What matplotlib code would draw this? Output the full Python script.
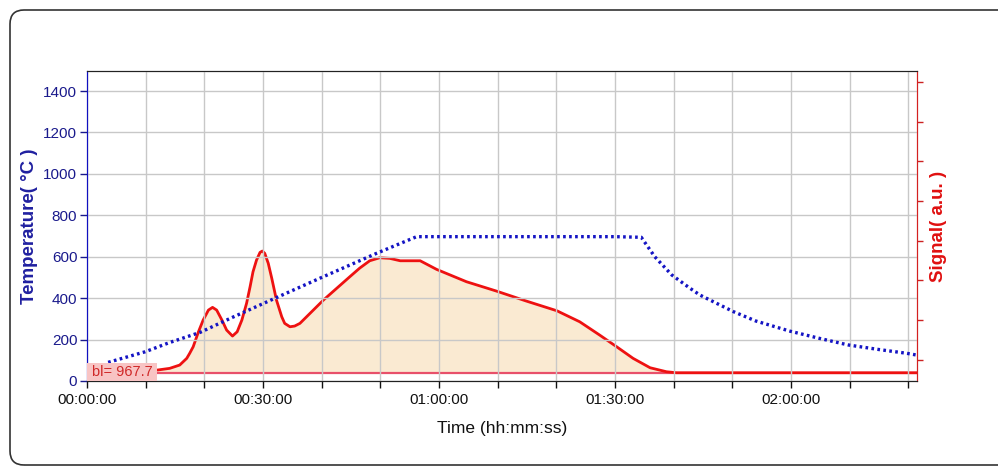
import matplotlib.pyplot as plt
from matplotlib.patches import FancyBboxPatch, Rectangle
from matplotlib.transforms import IdentityTransform

plt.rcParams['font.family'] = ['Liberation Sans', 'DejaVu Sans']

# temperature programme (time in minutes, deg C)
temp_t = [3.6, 9.9, 14.0, 19.3, 25.0, 32.0, 40.0, 49.4, 56.2, 60.0, 70.0, 80.0, 90.0, 94.5,
          96.8, 99.7, 102.8, 104.5, 110.2, 114.0, 119.8, 125.0, 129.8, 135.0, 139.7, 141.5]
temp_v = [90, 141, 185, 235, 310, 399, 500, 617, 697, 697, 697, 697, 697, 694,
          600, 512, 448, 415, 335, 290, 241, 205, 174, 152, 134, 125]

# signal (a.u.)
sig_t = [0.0, 8.0, 12.0, 14.1, 15.8, 17.0, 17.5, 18.1, 19.0, 19.8, 20.7, 21.4, 22.1, 23.0,
         23.8, 24.8, 25.6, 26.4, 27.2, 27.8, 28.3, 28.9, 29.5, 29.9, 30.3, 30.9, 31.5,
         32.3, 33.2, 33.7, 34.6, 35.4, 36.3, 40.3, 44.8, 46.5, 48.2, 49.9, 51.6, 53.4,
         56.8, 59.6, 64.7, 69.8, 74.9, 80.1, 84.0, 87.4, 90.3, 93.1, 96.0, 98.8, 100.5,
         110.0, 141.5]
sig_v = [1040, 1040, 1036, 1079, 1162, 1331, 1457, 1623, 2001, 2296, 2548, 2616, 2548, 2296,
         2044, 1893, 2001, 2296, 2717, 3136, 3514, 3809, 4003, 4036, 3978, 3726, 3347,
         2800, 2379, 2213, 2127, 2145, 2213, 2800, 3388, 3607, 3791, 3867, 3852, 3791,
         3791, 3574, 3262, 3027, 2775, 2531, 2253, 1918, 1623, 1331, 1094, 993, 968,
         968, 968]
baseline = 967.7
fill_start = 12.0
fill_end = 100.5

x_major = [0, 30, 60, 90, 120]
x_labels = ['00:00:00', '00:30:00', '01:00:00', '01:30:00', '02:00:00']
x_minor = [10, 20, 40, 50, 70, 80, 100, 110, 130, 140]
sig_ticks = [1300, 2300, 3300, 4300, 5300, 6300, 7300, 8300]

blue = '#1414c4'
dblue = '#1a1a8c'
red = '#ee1111'

fig = plt.figure(figsize=(9.98, 4.68), dpi=100)
fig.patches.append(FancyBboxPatch((10, 3), 1010, 455, boxstyle='round,pad=0,rounding_size=14',
                                  transform=IdentityTransform(), fill=False,
                                  edgecolor='#333333', linewidth=1.2))

ax = fig.add_axes([0.0872, 0.1859, 0.8316, 0.6624])
ax2 = ax.twinx()
ax.set_zorder(ax2.get_zorder() + 1)
ax.patch.set_visible(False)

# signal side
ax2.axhline(baseline, color='#e8506a', lw=1.6, zorder=2)
fx = [t for t in sig_t if fill_start <= t <= fill_end]
fy = [v for t, v in zip(sig_t, sig_v) if fill_start <= t <= fill_end]
ax2.fill_between(fx, baseline, fy, color='#f7d9ae', alpha=0.55, lw=0, zorder=1)
ax2.plot(sig_t, sig_v, color=red, lw=2, zorder=3)
ax2.set_ylim(760, 8575)
ax2.set_yticks(sig_ticks)
ax2.set_yticklabels([])
ax2.tick_params(axis='y', colors='#cc2222', length=4, width=1)
ax2.set_ylabel('Signal( a.u. )', color='#e01010', fontsize=13.5, fontweight='bold', labelpad=2)

# temperature side
ax.plot(temp_t, temp_v, color=blue, lw=2.4, linestyle=(0, (0.8, 1.0)), zorder=5)
ax.set_xlim(0, 141.5)
ax.set_ylim(0, 1497)
ax.set_yticks(range(0, 1401, 200))
ax.set_xticks(x_major)
ax.set_xticklabels(x_labels)
ax.set_xticks(x_minor, minor=True)
ax.grid(True, which='both', color='#c8c8c8', lw=1)
ax.tick_params(axis='y', colors=dblue, labelsize=11, length=5, width=1, pad=2)
ax.tick_params(axis='x', which='both', length=5, width=1, labelsize=11, colors='#111111')
ax.set_ylabel('Temperature( °C )', color='#2020a0', fontsize=13.5, fontweight='bold', labelpad=4)
ax.set_xlabel('Time (hh:mm:ss)', fontsize=12.5, color='#111111', labelpad=10)

for a in (ax, ax2):
    a.spines['left'].set_color('#1010c0')
    a.spines['right'].set_color('#d42020')
    a.spines['top'].set_color('#222222')
    a.spines['bottom'].set_color('#222222')

# baseline label
ax.add_patch(Rectangle((0, 0), 0.084, 0.058, transform=ax.transAxes, facecolor='#f8c4c4',
                       edgecolor='none', zorder=6, clip_on=False))
ax.text(0.042, 0.029, 'bl= 967.7', transform=ax.transAxes, ha='center', va='center',
        fontsize=10.5, color='#d02828', zorder=7)

fig.savefig('out.png', dpi=100)
